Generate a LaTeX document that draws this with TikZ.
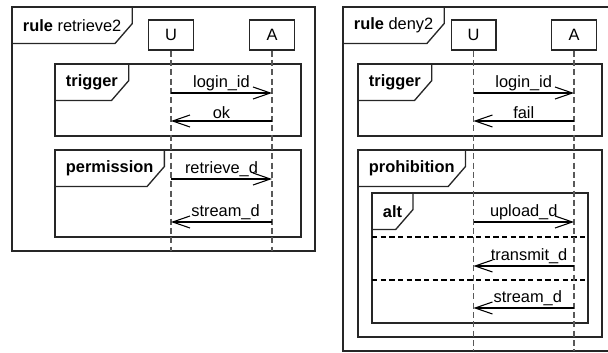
\documentclass[tikz,border=0pt]{standalone}
\usepackage{fontspec}
\setsansfont{Liberation Sans}
\usetikzlibrary{positioning, arrows.meta, calc}

% label tab of a frame, drawn round its text node
\newcommand{\frametab}[1]{%
  \draw[frameline] (#1.north east) -- ([yshift=15pt]#1.south east)
    -- ([xshift=-13pt]#1.south east) -- (#1.south west);}

\begin{document}
\begin{tikzpicture}[
		x=0.75pt, y=-0.75pt,
		every node/.style={font=\sffamily\fontsize{12.3}{14}\selectfont},
		frameline/.style={draw=black!85, line width=1pt},
		tab/.style={anchor=north west, minimum height=27pt, inner xsep=8pt, inner ysep=0pt},
		lifebox/.style={rectangle, draw=black!85, line width=1pt, minimum width=33.5pt, minimum height=22.5pt, inner sep=0pt},
		lifeline/.style={draw=black!65, line width=1pt, dash pattern=on 4.5pt off 2.5pt},
		msg/.style={-{Straight Barb[length=13pt, width=9pt]}, line width=0.8pt},
		altsep/.style={draw=black, line width=0.8pt, dash pattern=on 4pt off 2.5pt},
		msglabel/.style={above, inner sep=1.5pt}
		]
		\useasboundingbox (0,0) rectangle (608,353);
		\clip (0,0) rectangle (608,353);
		
		% rule retrieve2
		\draw[frameline] (12,7) rectangle (315,251);
		\node[tab] (rule1) at (12,7) {\textbf{rule} retrieve2};
		\frametab{rule1}
		
		\draw[frameline] (55,64) rectangle (301,136);
		\node[tab] (trig1) at (55,64) {\textbf{trigger}};
		\frametab{trig1}
		
		\draw[frameline] (55,150) rectangle (301,237);
		\node[tab] (perm1) at (55,150) {\textbf{permission}};
		\frametab{perm1}
		
		% Lifelines
		\node[lifebox] (U1) at (171,35) {U};
		\node[lifebox] (A1) at (272,35) {A};
		\coordinate (end1) at (0,251);
		\draw[lifeline] (U1) -- (U1 |- end1);
		\draw[lifeline] (A1) -- (A1 |- end1);
		
		% Messages
		\coordinate (m11) at (0,93);
		\coordinate (m12) at (0,121);
		\coordinate (m13) at (0,179);
		\coordinate (m14) at (0,222);
		\draw[msg] (U1 |- m11) -- node[msglabel] {login\_id} (A1 |- m11);
		\draw[msg] (A1 |- m12) -- node[msglabel] {ok} (U1 |- m12);
		\draw[msg] (U1 |- m13) -- node[msglabel] {retrieve\_d} (A1 |- m13);
		\draw[msg] (A1 |- m14) -- node[msglabel, xshift=3pt] {stream\_d} (U1 |- m14);
		
		% rule deny2
		\draw[frameline] (343,7) rectangle (630,351);
		\node[tab] (rule2) at (343,7) {\textbf{rule} deny2};
		\frametab{rule2}
		
		\draw[frameline] (358,64) rectangle (602,136);
		\node[tab] (trig2) at (358,64) {\textbf{trigger}};
		\frametab{trig2}
		
		\draw[frameline] (358,150) rectangle (602,337);
		\node[tab] (proh2) at (358,150) {\textbf{prohibition}};
		\frametab{proh2}
		
		\draw[frameline] (372,193) rectangle (588,323);
		\node[tab] (alt2) at (372,193) {\textbf{alt}};
		\frametab{alt2}
		\draw[altsep] (372,237) -- (588,237);
		\draw[altsep] (372,280) -- (588,280);
		
		% Lifelines
		\node[lifebox] (U2) at (473.5,35) {U};
		\node[lifebox] (A2) at (574,35) {A};
		\coordinate (end2) at (0,351);
		\draw[lifeline] (U2) -- (U2 |- end2);
		\draw[lifeline] (A2) -- (A2 |- end2);
		
		% Messages
		\coordinate (m21) at (0,93);
		\coordinate (m22) at (0,121);
		\coordinate (m23) at (0,222);
		\coordinate (m24) at (0,266);
		\coordinate (m25) at (0,308);
		\draw[msg] (U2 |- m21) -- node[msglabel] {login\_id} (A2 |- m21);
		\draw[msg] (A2 |- m22) -- node[msglabel] {fail} (U2 |- m22);
		\draw[msg] (U2 |- m23) -- node[msglabel] {upload\_d} (A2 |- m23);
		\draw[msg] (A2 |- m24) -- node[msglabel, xshift=4pt] {transmit\_d} (U2 |- m24);
		\draw[msg] (A2 |- m25) -- node[msglabel, xshift=3pt] {stream\_d} (U2 |- m25);
		
	\end{tikzpicture}
\end{document}
